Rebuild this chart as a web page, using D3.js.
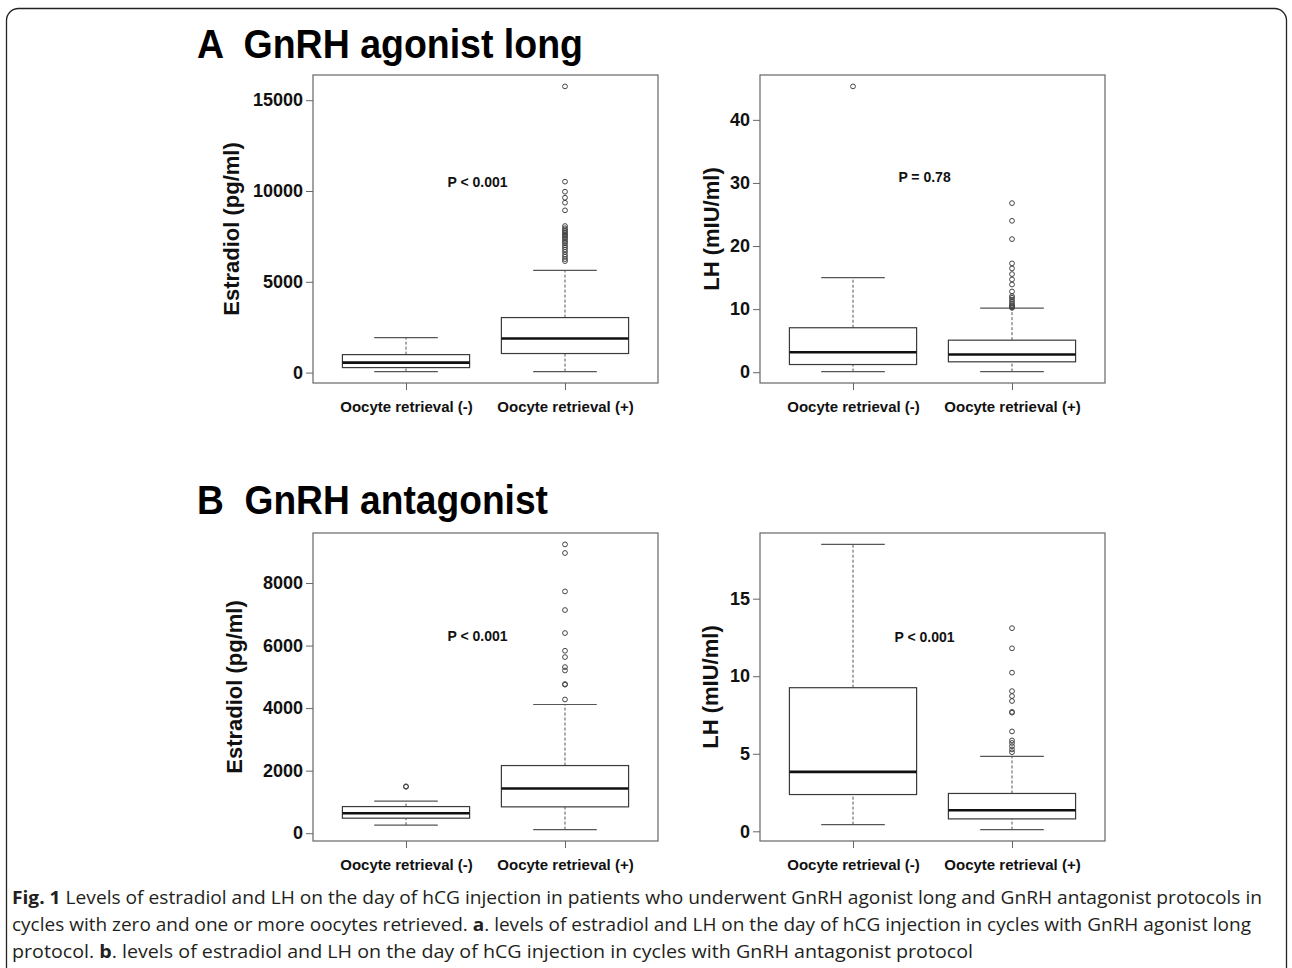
<!DOCTYPE html>
<html>
<head>
<meta charset="utf-8">
<script src="https://cdn.jsdelivr.net/npm/d3@7"></script>
<style>
  body { margin: 0; background: #fff; }
  svg { display: block; }
</style>
</head>
<body>
<svg id="fig" width="1292" height="968"></svg>
<script>
const groups = ['Oocyte retrieval (-)', 'Oocyte retrieval (+)'];

// [lower whisker, Q1, median, Q3, upper whisker] per group
const agonistE2Stats = [[55, 275, 550, 990, 1930], [55, 1050, 1875, 3030, 5625]];
const agonistE2Outliers = [[], [15760, 10515, 9960, 9630, 9355, 8935, 8070, 7950, 7850, 7780,
  7700, 7620, 7550, 7480, 7400, 7300, 7200, 7120, 7000, 6900, 6780, 6650, 6500, 6380, 6250, 6140]];
const agonistE2Ticks = [0, 5000, 10000, 15000];

const agonistLHStats = [[0.1, 1.22, 3.17, 7.05, 15.0], [0.1, 1.65, 2.8, 5.08, 10.16]];
const agonistLHOutliers = [[45.3], [26.8, 24.0, 21.1, 17.25, 16.45, 15.55, 14.7, 13.9, 12.8, 12.06,
  11.8, 11.5, 11.17, 10.85, 10.6, 10.45, 10.3, 10.2]];
const agonistLHTicks = [0, 10, 20, 30, 40];

const antagonistE2Stats = [[256, 480, 640, 851, 1024], [115, 842, 1427, 2163, 4115]];
const antagonistE2Outliers = [[1482, 1500], [9235, 8960, 7731, 7136, 6400, 5834, 5632, 5312, 5203,
  4768, 4750, 4275]];
const antagonistE2Ticks = [0, 2000, 4000, 6000, 8000];

const antagonistLHStats = [[0.43, 2.37, 3.83, 9.26, 18.5], [0.11, 0.8, 1.36, 2.44, 4.83]];
const antagonistLHOutliers = [[], [13.1, 11.8, 10.23, 9.04, 8.72, 8.4, 7.7, 7.65, 6.44, 5.86, 5.7,
  5.49, 5.28, 5.1]];
const antagonistLHTicks = [0, 5, 10, 15];

const pLabels = ['P < 0.001', 'P = 0.78', 'P < 0.001', 'P < 0.001'];
const pLabelY = [10500, 31, 6300, 12.5];
const pLabelX = 1.45;

const sectionTitles = ['A  GnRH agonist long', 'B  GnRH antagonist'];

const captionLines = [
  [['Fig. 1', true], [' Levels of estradiol and LH on the day of hCG injection in patients who underwent GnRH agonist long and GnRH antagonist protocols in', false]],
  [['cycles with zero and one or more oocytes retrieved. ', false], ['a', true], ['. levels of estradiol and LH on the day of hCG injection in cycles with GnRH agonist long', false]],
  [['protocol. ', false], ['b', true], ['. levels of estradiol and LH on the day of hCG injection in cycles with GnRH antagonist protocol', false]]
];

const svg = d3.select('#fig');
const font = "'Liberation Sans', Arial, Helvetica, sans-serif";
const boxColor = '#3a3a3a';
const frameColor = '#666';

const panelWidth = 345;
const panelHeight = 308;

// outer rounded border
svg.append('rect')
  .attr('x', 6.5)
  .attr('y', 8.5)
  .attr('width', 1280)
  .attr('height', 1100)
  .attr('rx', 12)
  .style('fill', 'none')
  .style('stroke', '#222')
  .style('stroke-width', 1.3);

// section headings
const titleBaselines = [58, 514];
sectionTitles.forEach((t, i) => {
  svg.append('text')
    .attr('x', 197)
    .attr('y', titleBaselines[i])
    .attr('textLength', i === 0 ? 386 : 351)
    .attr('lengthAdjust', 'spacingAndGlyphs')
    .style('white-space', 'pre')
    .style('font-family', font)
    .style('font-weight', 'bold')
    .style('font-size', '40px')
    .style('fill', '#000')
    .text(t);
});

const panels = [
  { stats: agonistE2Stats, outliers: agonistE2Outliers, ticks: agonistE2Ticks,
    ylabel: 'Estradiol (pg/ml)', left: 313, top: 75, labelOffset: -74 },
  { stats: agonistLHStats, outliers: agonistLHOutliers, ticks: agonistLHTicks,
    ylabel: 'LH (mIU/ml)', left: 760, top: 75, labelOffset: -41 },
  { stats: antagonistE2Stats, outliers: antagonistE2Outliers, ticks: antagonistE2Ticks,
    ylabel: 'Estradiol (pg/ml)', left: 313, top: 533, labelOffset: -71 },
  { stats: antagonistLHStats, outliers: antagonistLHOutliers, ticks: antagonistLHTicks,
    ylabel: 'LH (mIU/ml)', left: 760, top: 533, labelOffset: -42 }
];

function drawPanel(p, idx) {
  const g = svg.append('g')
    .attr('transform', `translate(${p.left},${p.top})`);

  const all = p.stats.flat().concat(p.outliers.flat());
  const [lo, hi] = d3.extent(all);
  const pad = (hi - lo) * 0.04;

  const yScale = d3.scaleLinear()
    .domain([lo - pad, hi + pad])
    .range([panelHeight, 0]);

  const xScale = d3.scalePoint()
    .domain(groups)
    .range([0, panelWidth])
    .padding(0.585);

  const boxW = xScale.step() * 0.8;

  // y axis
  const yAxis = d3.axisLeft(yScale)
    .tickValues(p.ticks)
    .tickSizeInner(7)
    .tickSizeOuter(0)
    .tickPadding(3)
    .tickFormat(d3.format('d'));

  const yG = g.append('g').call(yAxis);
  yG.select('.domain').remove();
  yG.selectAll('.tick line').style('stroke', frameColor);
  yG.selectAll('.tick text')
    .style('font-family', font)
    .style('font-weight', 'bold')
    .style('font-size', '18px')
    .style('fill', '#111');

  // x axis
  const xAxis = d3.axisBottom(xScale)
    .tickSizeInner(7)
    .tickSizeOuter(0);

  const xG = g.append('g')
    .attr('transform', `translate(0,${panelHeight})`)
    .call(xAxis);
  xG.select('.domain').remove();
  xG.selectAll('.tick line').style('stroke', frameColor);
  xG.selectAll('.tick text')
    .attr('y', 29)
    .attr('dy', 0)
    .style('font-family', font)
    .style('font-weight', 'bold')
    .style('font-size', '15px')
    .style('fill', '#111');

  // frame
  g.append('rect')
    .attr('width', panelWidth)
    .attr('height', panelHeight)
    .style('fill', 'none')
    .style('stroke', frameColor)
    .style('stroke-width', 1.2);

  // y label
  g.append('text')
    .attr('transform', `translate(${p.labelOffset},${panelHeight / 2}) rotate(-90)`)
    .attr('text-anchor', 'middle')
    .style('font-family', font)
    .style('font-weight', 'bold')
    .style('font-size', '22px')
    .style('fill', '#111')
    .text(p.ylabel);

  // boxes
  groups.forEach((name, i) => {
    const [wLo, q1, med, q3, wHi] = p.stats[i];
    const cx = xScale(name);
    const box = g.append('g').attr('class', 'box');

    box.append('line')
      .attr('x1', cx).attr('x2', cx)
      .attr('y1', yScale(wLo)).attr('y2', yScale(q1))
      .style('stroke', '#555').style('stroke-dasharray', '3,2').style('stroke-width', 1);
    box.append('line')
      .attr('x1', cx).attr('x2', cx)
      .attr('y1', yScale(q3)).attr('y2', yScale(wHi))
      .style('stroke', '#555').style('stroke-dasharray', '3,2').style('stroke-width', 1);

    [wLo, wHi].forEach((v) => {
      box.append('line')
        .attr('x1', cx - boxW / 4).attr('x2', cx + boxW / 4)
        .attr('y1', yScale(v)).attr('y2', yScale(v))
        .style('stroke', '#555').style('stroke-width', 1.2);
    });

    box.append('rect')
      .attr('x', cx - boxW / 2)
      .attr('y', yScale(q3))
      .attr('width', boxW)
      .attr('height', yScale(q1) - yScale(q3))
      .style('fill', '#fff')
      .style('stroke', boxColor)
      .style('stroke-width', 1.2);

    box.append('line')
      .attr('x1', cx - boxW / 2).attr('x2', cx + boxW / 2)
      .attr('y1', yScale(med)).attr('y2', yScale(med))
      .style('stroke', '#111').style('stroke-width', 2.6);

    box.selectAll('circle')
      .data(p.outliers[i])
      .enter()
      .append('circle')
      .attr('cx', cx)
      .attr('cy', (d) => yScale(d))
      .attr('r', 2.4)
      .style('fill', 'none')
      .style('stroke', '#444')
      .style('stroke-width', 1);
  });

  // p value
  g.append('text')
    .attr('x', xScale(groups[0]) + (pLabelX - 1) * xScale.step())
    .attr('y', yScale(pLabelY[idx]))
    .attr('dy', '0.36em')
    .attr('text-anchor', 'middle')
    .style('font-family', font)
    .style('font-weight', 'bold')
    .style('font-size', '14px')
    .style('fill', '#111')
    .text(pLabels[idx]);
}

panels.forEach(drawPanel);

// caption
const captionBaselines = [904, 931, 958];
const captionWidths = [1250, 1239, 961];
captionLines.forEach((parts, i) => {
  const t = svg.append('text')
    .attr('x', 12)
    .attr('y', captionBaselines[i])
    .attr('textLength', captionWidths[i])
    .attr('lengthAdjust', 'spacingAndGlyphs')
    .style('white-space', 'pre')
    .style('font-family', "'Open Sans', 'Noto Sans', sans-serif")
    .style('font-size', '18px')
    .style('fill', '#231f20');
  parts.forEach(([s, bold]) => {
    t.append('tspan')
      .style('font-weight', bold ? 'bold' : 'normal')
      .text(s);
  });
});
</script>
</body>
</html>
